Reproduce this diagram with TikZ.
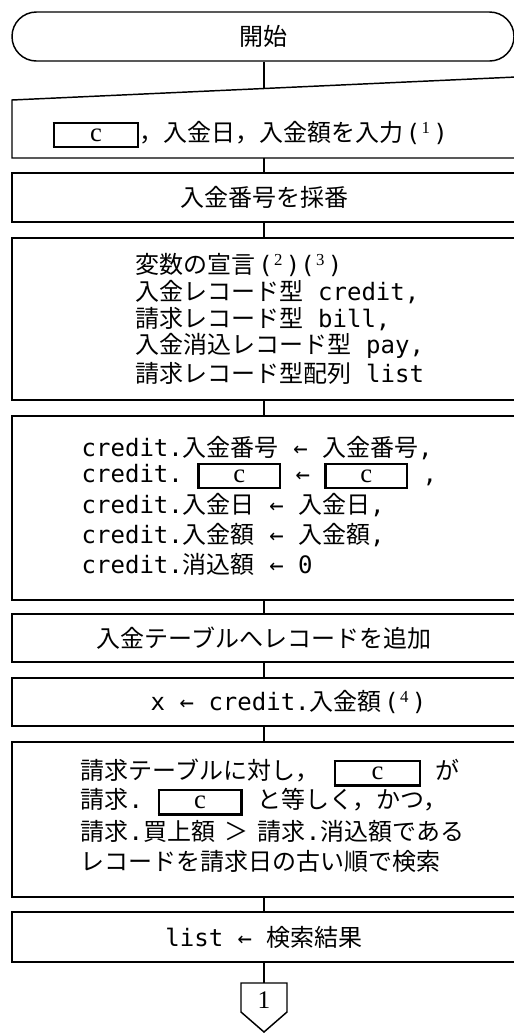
\documentclass[tikz,border=0pt]{standalone}
\usepackage{fontspec}
\setmainfont{Noto Sans CJK JP}
\newfontfamily\jp{Noto Sans CJK JP}
\newfontfamily\mn{DejaVu Sans Mono}
\newfontfamily\sr{Liberation Serif}
\newcommand\cb[1][60pt]{{\setlength\fboxrule{1.9pt}\setlength\fboxsep{0pt}\fbox{\makebox[#1]{\rule[-3.2pt]{0pt}{16.4pt}\sr\fontsize{20}{20}\selectfont c}}}}
\newcommand\supn[1]{\hspace{2pt}{\mn(}\hspace{1pt}\textsuperscript{\sr #1}\hspace{2pt}{\mn)}}
\newcommand\ar{{\mn\ \textleftarrow\ }}
\begin{document}
\begin{tikzpicture}[x=0.75pt,y=-0.75pt,line width=1.1pt,
  proc/.style={draw,rectangle,minimum width=378pt,inner sep=0pt},
  txt/.style={inner sep=0pt,font=\jp\fontsize{18}{18}\selectfont},
  lt/.style={txt,anchor=west}]
\useasboundingbox (0,0) rectangle (514,1033);
\clip (0,0) rectangle (514,1033);
% terminal
\node[draw,rounded corners=18.3pt,minimum width=376.5pt,minimum height=36.75pt,inner sep=0pt,txt] (start) at (263,36.5) {開始};
% manual input
\coordinate (inTL) at (12,100);
\coordinate (inTR) at (516,77);
\coordinate (inBR) at (516,158);
\coordinate (inBL) at (12,158);
\coordinate (inTop) at (264,88.5);
\coordinate (inBot) at (264,158);
\draw (inTL) -- (inTR) -- (inBR) -- (inBL) -- cycle;
\node[lt] (t1) at (52,135) {\cb[61pt]，入金日，入金額を入力\supn{1}};
% boxes
\node[proc,minimum height=36.75pt,txt] (b2) at (264,197.5) {入金番号を採番};
\node[proc,minimum height=121.5pt] (b3) at (264,319) {};
\node[lt] (b3a) at (135,265) {変数の宣言\supn{2}\hspace{-2pt}\supn{3}};
\node[lt] (b3b) at (135,292) {入金レコード型{\mn\ credit,}};
\node[lt] (b3c) at (135,319) {請求レコード型{\mn\ bill,}};
\node[lt] (b3d) at (135,346) {入金消込レコード型{\mn\ pay,}};
\node[lt] (b3e) at (135,373) {請求レコード型配列{\mn\ list}};
\node[proc,minimum height=138pt] (b4) at (264,508) {};
\node[lt] (b4a) at (81,448) {{\mn credit.}入金番号\ar 入金番号{\mn,}};
\node[lt] (b4b) at (81,476) {{\mn credit.\ }\cb[59pt]\ar\cb[59pt]{\mn\ ,}};
\node[lt] (b4c) at (81,505) {{\mn credit.}入金日\ar 入金日{\mn,}};
\node[lt] (b4d) at (81,535) {{\mn credit.}入金額\ar 入金額{\mn,}};
\node[lt] (b4e) at (81,564) {{\mn credit.}消込額\ar{\mn 0}};
\node[proc,minimum height=36pt,txt] (b5) at (264,638) {入金テーブルへレコードを追加};
\node[proc,minimum height=36pt] (b6) at (264,702) {};
\node[lt] (b6t) at (150,702) {{\mn x}\ar{\mn credit.}入金額\supn{4}};
\node[proc,minimum height=116.25pt] (b7) at (264,819.5) {};
\node[lt] (b7a) at (80,773) {請求テーブルに対し，{\mn\ }\cb[62pt]{\mn\ }が};
\node[lt] (b7b) at (80,802) {請求{\mn.\ }\cb[60pt]{\mn\ }と等しく，かつ，};
\node[lt] (b7c) at (80,831) {請求{\mn.}買上額\ \hspace{3pt}＞\ \hspace{3pt}請求{\mn.}消込額である};
\node[lt] (b7d) at (80,861) {レコードを請求日の古い順で検索};
\node[proc,minimum height=37.5pt,txt] (b8) at (264,937) {{\mn list}\ar 検索結果};
% off-page connector
\coordinate (opTop) at (264,983);
\draw (241,983) -- (opTop) -- (287,983) -- (287,1012) -- (264,1032) -- (241,1012) -- cycle;
\node[inner sep=0pt,font=\sr\fontsize{19}{19}\selectfont] (op) at (264,1000) {1};
% connectors
\draw (start.south -| inTop) -- (inTop);
\draw (inBot) -- (b2.north);
\draw (b2.south) -- (b3.north);
\draw (b3.south) -- (b4.north);
\draw (b4.south) -- (b5.north);
\draw (b5.south) -- (b6.north);
\draw (b6.south) -- (b7.north);
\draw (b7.south) -- (b8.north);
\draw (b8.south) -- (opTop);
\end{tikzpicture}
\end{document}
